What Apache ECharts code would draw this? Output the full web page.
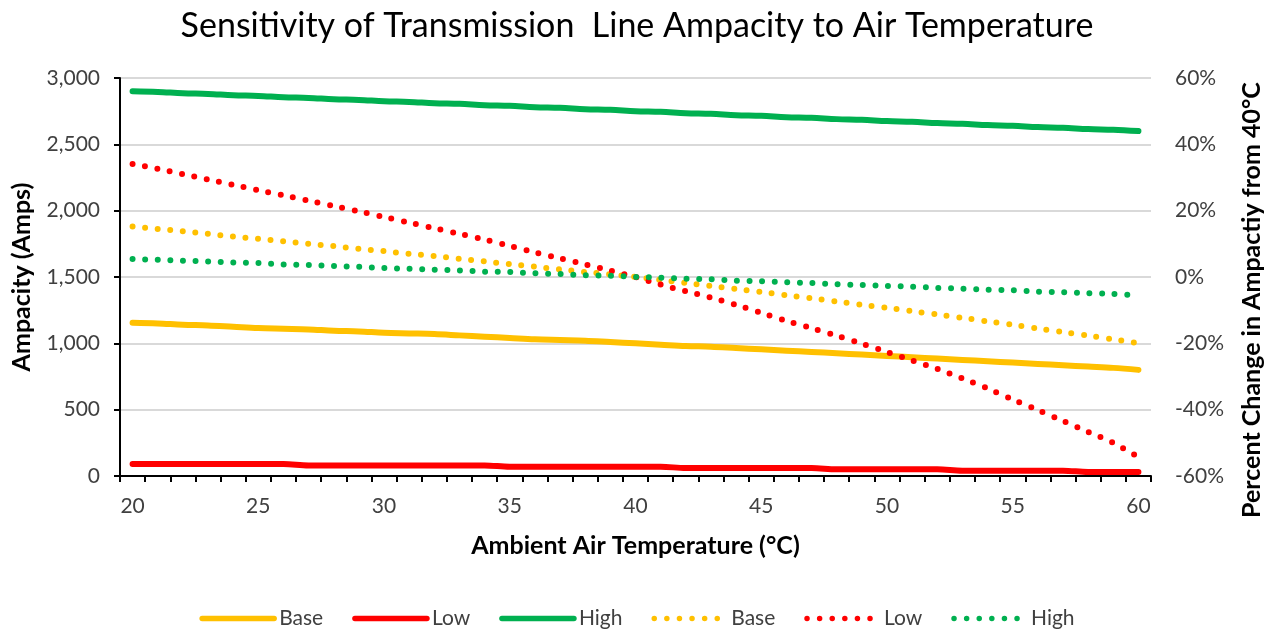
<!DOCTYPE html>
<html>
<head>
<meta charset="utf-8">
<script src="https://cdn.jsdelivr.net/npm/echarts@6/dist/echarts.min.js"></script>
<style>
  html, body { margin: 0; padding: 0; background: #fff; }
  #chart { width: 1274px; height: 630px; }
</style>
</head>
<body>
<div id="chart"></div>
<script>
// Categories: ambient air temperature (°C)
const temperatures = ['20','21','22','23','24','25','26','27','28','29','30','31','32','33','34','35','36','37','38','39','40',
                      '41','42','43','44','45','46','47','48','49','50','51','52','53','54','55','56','57','58','59','60'];

// Ampacity (Amps) – left axis
const baseAmps = [1155,1150,1140,1135,1125,1115,1110,1105,1095,1090,1080,1075,1070,1060,1050,1040,1030,1025,1020,1010,1000,
                  990,980,975,965,955,945,935,925,915,905,895,885,875,865,855,845,835,825,815,800];
const lowAmps  = [90,90,90,90,90,90,90,80,80,80,80,80,80,80,80,70,70,70,70,70,70,
                  70,60,60,60,60,60,60,50,50,50,50,50,40,40,40,40,40,30,30,30];
const highAmps = [2900,2895,2885,2880,2870,2865,2855,2850,2840,2835,2825,2820,2810,2805,2795,2790,2780,2775,2765,2760,2750,
                  2745,2735,2730,2720,2715,2705,2700,2690,2685,2675,2670,2660,2655,2645,2640,2630,2625,2615,2610,2600];

// Percent change in ampacity from 40°C – right axis
const basePct = [15.2,14.5,13.8,13.0,12.2,11.5,10.8,10.0,9.3,8.5,7.8,7.0,6.3,5.5,4.7,3.9,3.1,2.3,1.5,0.8,0,
                 -0.9,-1.8,-2.7,-3.6,-4.5,-5.5,-6.4,-7.4,-8.4,-9.3,-10.3,-11.3,-12.3,-13.4,-14.4,-15.5,-16.6,-17.7,-18.8,-20.0];
const lowPct  = [34.1,32.6,31.0,29.4,27.8,26.2,24.6,23.0,21.4,19.8,18.1,16.4,14.7,13.0,11.3,9.4,7.4,5.6,3.8,1.9,0,
                 -2.3,-4.3,-6.2,-8.4,-10.8,-13.2,-15.4,-17.7,-20.1,-22.6,-25.2,-27.7,-30.6,-33.6,-36.9,-40.1,-43.4,-46.7,-50.0,-54.3];
const highPct = [5.4,5.2,4.9,4.7,4.4,4.2,3.8,3.6,3.3,3.1,2.7,2.5,2.2,2.0,1.6,1.5,1.1,0.9,0.5,0.4,0,
                 -0.2,-0.5,-0.7,-1.1,-1.3,-1.6,-1.8,-2.2,-2.4,-2.7,-2.9,-3.3,-3.5,-3.8,-4.0,-4.4,-4.6,-4.9,-5.1,-5.6];

// Axis ticks
const leftTicks = { min: 0, max: 3000, interval: 500 };
const rightTicks = { min: -60, max: 60, interval: 20 };

const FONT = 'Lato, "Open Sans", sans-serif';
const COLORS = { base: '#FFC000', low: '#FF0000', high: '#00B050' };
const LABEL_COLOR = '#404040';

function solid(name, data, color) {
  return {
    name: name, type: 'line', yAxisIndex: 0, data: data,
    smooth: 0.35, symbol: 'none', showSymbol: false,
    lineStyle: { color: color, width: 6, cap: 'round', join: 'round' },
    itemStyle: { color: color },
    emphasis: { disabled: true }
  };
}
function dotted(name, data, color) {
  return {
    name: name, type: 'line', yAxisIndex: 1, data: data,
    smooth: 0.3, symbol: 'none', showSymbol: false,
    lineStyle: { color: color, width: 6, type: [0, 12.6], cap: 'round' },
    itemStyle: { color: color },
    emphasis: { disabled: true }
  };
}

const chart = echarts.init(document.getElementById('chart'), null, { renderer: 'canvas' });
chart.setOption({
  backgroundColor: '#ffffff',
  animation: false,
  textStyle: { fontFamily: FONT },
  title: {
    text: 'Sensitivity of Transmission  Line Ampacity to Air Temperature',
    left: 'center', top: 4,
    textStyle: { fontFamily: FONT, fontSize: 34, fontWeight: 'normal', color: '#000' }
  },
  legend: {
    top: 603, left: 'center',
    itemWidth: 72, itemHeight: 24, itemGap: 29,
    itemStyle: { opacity: 0 },
    lineStyle: { width: 5.5 },
    textStyle: { fontFamily: FONT, fontSize: 21, color: LABEL_COLOR },
    formatter: function (n) { return n.replace(' %', ''); },
    data: ['Base', 'Low', 'High', 'Base %', 'Low %', 'High %']
  },
  grid: { left: 120, right: 123, top: 78, bottom: 154, containLabel: false },
  xAxis: {
    type: 'category', data: temperatures, boundaryGap: true,
    name: 'Ambient Air Temperature (°C)', nameLocation: 'middle', nameGap: 57,
    nameTextStyle: { fontFamily: FONT, fontSize: 25, fontWeight: 'bold', color: '#000' },
    axisLine: { show: true, onZero: false, lineStyle: { color: '#000', width: 2 } },
    axisTick: { show: true, interval: 0, alignWithLabel: false, length: 6, lineStyle: { color: '#000', width: 2 } },
    axisLabel: { interval: 4, margin: 20, fontFamily: FONT, fontSize: 21, color: LABEL_COLOR },
    splitLine: { show: false }
  },
  yAxis: [
    {
      type: 'value', position: 'left', min: leftTicks.min, max: leftTicks.max, interval: leftTicks.interval,
      name: 'Ampacity (Amps)', nameLocation: 'middle', nameGap: 86, nameRotate: 90,
      nameTextStyle: { fontFamily: FONT, fontSize: 25, fontWeight: 'bold', color: '#000' },
      axisLine: { show: true, lineStyle: { color: '#000', width: 2 } },
      axisTick: { show: true, length: 6, lineStyle: { color: '#000', width: 2 } },
      axisLabel: { margin: 20, fontFamily: FONT, fontSize: 21, color: LABEL_COLOR,
        formatter: function (v) { return v.toLocaleString('en-US'); } },
      splitLine: { show: true, lineStyle: { color: '#D9D9D9', width: 2 } }
    },
    {
      type: 'value', position: 'right', min: rightTicks.min, max: rightTicks.max, interval: rightTicks.interval,
      name: 'Percent Change in Ampactiy from 40°C', nameLocation: 'middle', nameGap: 88, nameRotate: 90,
      nameTextStyle: { fontFamily: FONT, fontSize: 25, fontWeight: 'bold', color: '#000', padding: [0, 46, 0, 0] },
      axisLine: { show: false },
      axisTick: { show: false },
      axisLabel: { margin: 24, fontFamily: FONT, fontSize: 21, color: LABEL_COLOR, formatter: '{value}%' },
      splitLine: { show: false }
    }
  ],
  series: [
    solid('Base', baseAmps, COLORS.base),
    solid('Low', lowAmps, COLORS.low),
    solid('High', highAmps, COLORS.high),
    dotted('Base %', basePct, COLORS.base),
    dotted('Low %', lowPct, COLORS.low),
    dotted('High %', highPct, COLORS.high)
  ]
});
</script>
</body>
</html>
